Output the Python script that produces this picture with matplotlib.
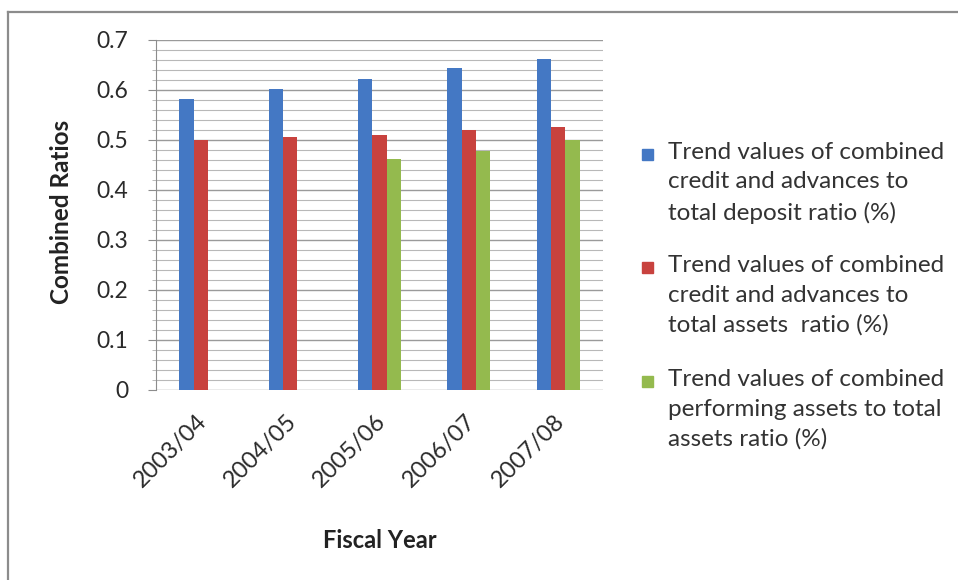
import matplotlib
matplotlib.use("Agg")
import matplotlib.pyplot as plt
import numpy as np
from matplotlib.patches import Rectangle
from matplotlib.lines import Line2D
from matplotlib.transforms import ScaledTranslation

plt.rcParams['font.family'] = ['Lato', 'DejaVu Sans']

years = ["2003/04", "2004/05", "2005/06", "2006/07", "2007/08"]
deposit_ratio = [0.583, 0.603, 0.623, 0.645, 0.663]
assets_ratio = [0.500, 0.507, 0.511, 0.520, 0.527]
performing_ratio = [np.nan, np.nan, 0.463, 0.479, 0.500]

series_names = [
    "Trend values of combined\ncredit and advances to\ntotal deposit ratio (%)",
    "Trend values of combined\ncredit and advances to\ntotal assets  ratio (%)",
    "Trend values of combined\nperforming assets to total\nassets ratio (%)",
]
colors = ["#4478C4", "#C8423E", "#94BA4E"]

W, H = 958, 580
fig = plt.figure(figsize=(W / 100, H / 100), dpi=100)

# outer chart frame
fig.add_artist(Line2D([7.5 / W, 7.5 / W], [0, 1 - 12 / H], transform=fig.transFigure,
                      color="#8c8c8c", lw=1.6))
fig.add_artist(Line2D([7.5 / W, 1], [1 - 12 / H, 1 - 12 / H], transform=fig.transFigure,
                      color="#8c8c8c", lw=1.6))

ax = fig.add_axes([156 / W, 1 - 390 / H, 447 / W, 350 / H])

x = np.arange(len(years))
bw = 0.16
for i, vals in enumerate([deposit_ratio, assets_ratio, performing_ratio]):
    ax.bar(x + (i - 1) * bw, vals, width=bw, color=colors[i], zorder=3)

ax.set_xlim(-0.5, len(years) - 0.5)
ax.set_ylim(0, 0.7)
ax.set_yticks(np.arange(0, 0.71, 0.1))
ax.set_yticklabels(["0", "0.1", "0.2", "0.3", "0.4", "0.5", "0.6", "0.7"])
ax.set_yticks(np.arange(0, 0.701, 0.02), minor=True)
ax.grid(axis="y", which="major", color="#9a9a9a", lw=1.0, zorder=0)
ax.grid(axis="y", which="minor", color="#b8b8b8", lw=0.8, zorder=0)

for s in ["top", "right", "bottom"]:
    ax.spines[s].set_visible(False)
ax.spines["left"].set_color("#8c8c8c")

ax.tick_params(axis="y", which="major", length=6, color="#8c8c8c", labelsize=16.5,
               labelcolor="#2a2a2a", pad=14)
ax.tick_params(axis="y", which="minor", length=3, color="#b0b0b0")
ax.tick_params(axis="x", length=0, labelsize=17, labelcolor="#2a2a2a", pad=20)
ax.set_xticks(x)
ax.set_xticklabels(years, rotation=45, ha="right", va="center", rotation_mode="anchor")
shift = ScaledTranslation(3 / 100, 0, fig.dpi_scale_trans)
for lbl in ax.get_xticklabels():
    lbl.set_transform(lbl.get_transform() + shift)

fig.text(62 / W, 1 - 212 / H, "Combined Ratios", rotation=90, ha="center", va="center",
         fontsize=17.5, fontweight="bold", color="#222222")
fig.text(380 / W, 1 - 540 / H, "Fiscal Year", ha="center", va="center",
         fontsize=17, fontweight="bold", color="#222222")

# legend entries
top_y = [155, 268, 382]
for i, name in enumerate(series_names):
    yc = top_y[i]
    fig.add_artist(Rectangle((642 / W, 1 - (yc + 5) / H), 11 / W, 11 / H,
                             transform=fig.transFigure, color=colors[i]))
    fig.text(668 / W, 1 - (yc - 13) / H, name, ha="left", va="top", fontsize=17.5,
             color="#333333", linespacing=1.5)

fig.savefig("out.png", dpi=100)
